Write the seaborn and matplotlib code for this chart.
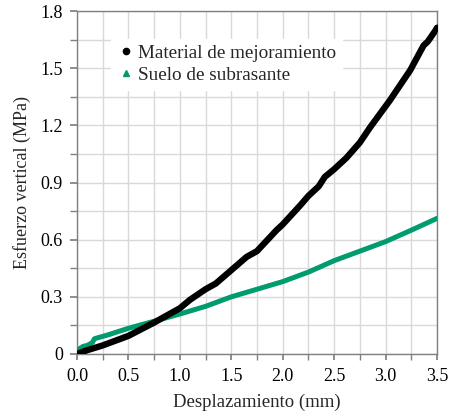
import matplotlib
matplotlib.use("Agg")
import matplotlib.pyplot as plt
import seaborn as sns
import pandas as pd
from matplotlib.lines import Line2D
from matplotlib.ticker import MultipleLocator, FixedLocator, FixedFormatter

# ___ Data ___

mejor_x = [0.0, 0.1, 0.25, 0.5, 0.75, 1.0, 1.1, 1.25, 1.35, 1.5, 1.65, 1.75,
           1.94, 2.0, 2.17, 2.25, 2.35, 2.41, 2.5, 2.62, 2.75, 2.85, 3.04,
           3.24, 3.37, 3.41, 3.5]
mejor_y = [0.0, 0.02, 0.045, 0.095, 0.165, 0.24, 0.285, 0.34, 0.37, 0.44,
           0.51, 0.54, 0.65, 0.68, 0.78, 0.83, 0.88, 0.93, 0.97, 1.03, 1.11,
           1.19, 1.33, 1.49, 1.62, 1.64, 1.71]

subr_x = [0.0, 0.03, 0.06, 0.1, 0.15, 0.17, 0.2, 0.3, 0.5, 0.75, 1.0, 1.25,
          1.5, 1.75, 2.0, 2.25, 2.5, 2.75, 3.0, 3.25, 3.5]
subr_y = [0.0, 0.03, 0.04, 0.045, 0.06, 0.08, 0.085, 0.10, 0.135, 0.172,
          0.21, 0.25, 0.30, 0.34, 0.38, 0.43, 0.49, 0.54, 0.59, 0.65, 0.712]

labels = ["Material de mejoramiento", "Suelo de subrasante"]
colors = ["black", "#009B6E"]

x_ticks = [0.0, 0.5, 1.0, 1.5, 2.0, 2.5, 3.0, 3.5]
x_tick_labels = ["0.0", "0.5", "1.0", "1.5", "2.0", "2.5", "3.0", "3.5"]
y_ticks = [0.0, 0.3, 0.6, 0.9, 1.2, 1.5, 1.8]
y_tick_labels = ["0", "0.3", "0.6", "0.9", "1.2", "1.5", "1.8"]

df = pd.concat([
    pd.DataFrame({"x": mejor_x, "y": mejor_y, "serie": labels[0]}),
    pd.DataFrame({"x": subr_x, "y": subr_y, "serie": labels[1]}),
])

# ___ Plot ___

sns.set_theme(style="white")
plt.rcParams["font.family"] = ["Liberation Serif", "DejaVu Serif"]

fig = plt.figure(figsize=(4.5, 4.15), dpi=100)
ax = fig.add_axes([0.171, 0.147, 0.8, 0.826])

sns.lineplot(data=df[df.serie == labels[0]], x="x", y="y", color=colors[0],
             linewidth=4.6, ax=ax, legend=False, zorder=4)
sns.lineplot(data=df[df.serie == labels[1]], x="x", y="y", color=colors[1],
             linewidth=3.6, ax=ax, legend=False, zorder=3)
ax.scatter([mejor_x[-1]], [mejor_y[-1]], color=colors[0], s=22, zorder=5)

ax.set_xlim(0, 3.5)
ax.set_ylim(0, 1.8)
ax.xaxis.set_major_locator(FixedLocator(x_ticks))
ax.xaxis.set_major_formatter(FixedFormatter(x_tick_labels))
ax.yaxis.set_major_locator(FixedLocator(y_ticks))
ax.yaxis.set_major_formatter(FixedFormatter(y_tick_labels))
ax.xaxis.set_minor_locator(MultipleLocator(0.25))
ax.yaxis.set_minor_locator(MultipleLocator(0.15))

ax.grid(which="both", color="#d9d9d9", linewidth=1.0, zorder=0)
ax.set_axisbelow(True)
for s in ax.spines.values():
    s.set_color("#808080")
    s.set_linewidth(1.0)

ax.tick_params(which="both", direction="out", color="#808080",
               labelsize=13, left=True, bottom=True, labelcolor="black")
ax.tick_params(axis="y", which="both", length=5, pad=5)
ax.tick_params(axis="x", which="both", length=4, pad=6)

ax.set_xlabel("Desplazamiento (mm)", fontsize=13.5, labelpad=6)
ax.set_ylabel("Esfuerzo vertical (MPa)", fontsize=13, labelpad=7)

handles = [
    Line2D([], [], linestyle="none", marker="o", color=colors[0], markersize=4.5),
    Line2D([], [], linestyle="none", marker="^", color=colors[1], markersize=4.5),
]
leg = ax.legend(handles, labels, loc="upper left", bbox_to_anchor=(0.095, 0.92),
                frameon=True, fancybox=False, framealpha=1, edgecolor="white",
                fontsize=13.8, handletextpad=0.1, handlelength=1.0,
                borderpad=0.3, labelspacing=0.25, borderaxespad=0)

fig.savefig("out.png", dpi=100)
